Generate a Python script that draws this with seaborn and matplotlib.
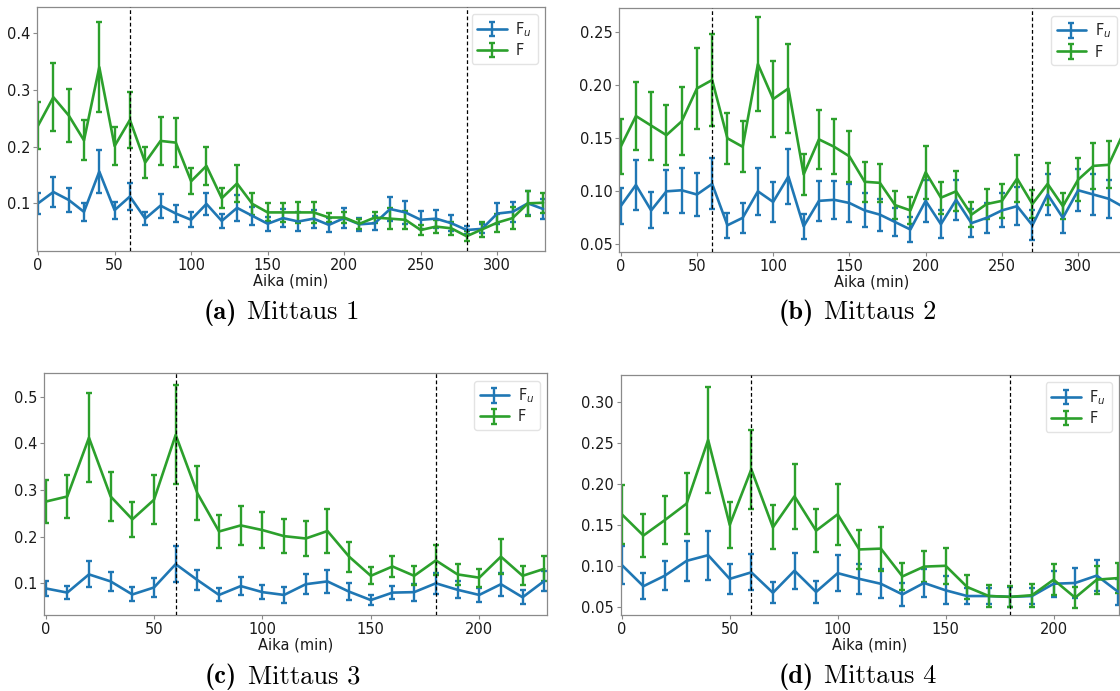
import numpy as np
import pandas as pd
import matplotlib
matplotlib.use("Agg")
import matplotlib.pyplot as plt
from matplotlib.ticker import MultipleLocator, FormatStrFormatter
import seaborn as sns

# Sampling times (min)
t_long = list(range(0, 331, 10))
t_short = list(range(0, 231, 10))

# Mittaus 1
m1_fu = [0.100, 0.120, 0.106, 0.085, 0.156, 0.088, 0.112, 0.073, 0.096, 0.082, 0.071, 0.099,
         0.069, 0.092, 0.078, 0.064, 0.074, 0.068, 0.073, 0.062, 0.074, 0.063, 0.065, 0.090,
         0.084, 0.071, 0.073, 0.065, 0.053, 0.055, 0.082, 0.085, 0.100, 0.090]
m1_fu_err = [0.019, 0.026, 0.021, 0.016, 0.038, 0.015, 0.024, 0.012, 0.021, 0.015, 0.013, 0.020,
             0.013, 0.023, 0.016, 0.012, 0.016, 0.016, 0.016, 0.012, 0.018, 0.012, 0.012, 0.022,
             0.020, 0.016, 0.016, 0.014, 0.007, 0.008, 0.018, 0.018, 0.021, 0.018]
m1_f = [0.237, 0.287, 0.255, 0.211, 0.340, 0.201, 0.247, 0.172, 0.210, 0.207, 0.139, 0.166,
        0.109, 0.135, 0.099, 0.084, 0.084, 0.084, 0.084, 0.075, 0.075, 0.064, 0.075, 0.073,
        0.071, 0.053, 0.059, 0.056, 0.042, 0.054, 0.066, 0.074, 0.100, 0.101]
m1_f_err = [0.042, 0.060, 0.047, 0.035, 0.079, 0.033, 0.050, 0.027, 0.043, 0.043, 0.023, 0.034,
            0.018, 0.033, 0.020, 0.016, 0.017, 0.019, 0.019, 0.008, 0.009, 0.009, 0.009, 0.018,
            0.016, 0.009, 0.012, 0.011, 0.009, 0.013, 0.016, 0.019, 0.022, 0.018]

# Mittaus 2
m2_fu = [0.086, 0.106, 0.082, 0.100, 0.101, 0.097, 0.107, 0.068, 0.075, 0.100, 0.090, 0.114,
         0.067, 0.091, 0.092, 0.089, 0.082, 0.078, 0.071, 0.064, 0.091, 0.069, 0.092, 0.070,
         0.075, 0.082, 0.086, 0.068, 0.097, 0.075, 0.101, 0.097, 0.093, 0.085]
m2_fu_err = [0.017, 0.024, 0.017, 0.020, 0.021, 0.020, 0.024, 0.012, 0.014, 0.022, 0.019, 0.026,
             0.012, 0.019, 0.018, 0.018, 0.016, 0.015, 0.013, 0.012, 0.020, 0.013, 0.019, 0.013,
             0.014, 0.016, 0.018, 0.014, 0.019, 0.014, 0.020, 0.019, 0.018, 0.018]
m2_f = [0.142, 0.171, 0.162, 0.153, 0.166, 0.197, 0.205, 0.150, 0.142, 0.220, 0.187, 0.197,
        0.116, 0.149, 0.142, 0.133, 0.109, 0.108, 0.087, 0.082, 0.118, 0.094, 0.100, 0.078,
        0.088, 0.091, 0.112, 0.088, 0.107, 0.086, 0.111, 0.124, 0.125, 0.156]
m2_f_err = [0.026, 0.032, 0.032, 0.028, 0.032, 0.038, 0.043, 0.024, 0.024, 0.044, 0.036, 0.042,
            0.019, 0.028, 0.026, 0.024, 0.019, 0.018, 0.013, 0.013, 0.025, 0.015, 0.019, 0.012,
            0.014, 0.016, 0.022, 0.013, 0.020, 0.012, 0.020, 0.022, 0.022, 0.025]

# Mittaus 3
m3_fu = [0.089, 0.080, 0.119, 0.104, 0.076, 0.091, 0.141, 0.107, 0.075, 0.094, 0.081, 0.075,
         0.098, 0.104, 0.082, 0.064, 0.080, 0.081, 0.100, 0.086, 0.075, 0.098, 0.070, 0.105]
m3_fu_err = [0.016, 0.014, 0.028, 0.021, 0.015, 0.020, 0.038, 0.022, 0.014, 0.020, 0.015, 0.017,
             0.022, 0.024, 0.018, 0.011, 0.014, 0.018, 0.023, 0.018, 0.015, 0.025, 0.015, 0.021]
m3_f = [0.275, 0.286, 0.412, 0.286, 0.237, 0.279, 0.418, 0.293, 0.211, 0.224, 0.214, 0.201,
        0.196, 0.212, 0.157, 0.116, 0.136, 0.116, 0.149, 0.119, 0.112, 0.157, 0.116, 0.131]
m3_f_err = [0.046, 0.047, 0.095, 0.052, 0.037, 0.053, 0.106, 0.058, 0.036, 0.042, 0.039, 0.037,
            0.038, 0.047, 0.032, 0.018, 0.022, 0.020, 0.032, 0.022, 0.019, 0.037, 0.020, 0.027]

# Mittaus 4
m4_fu = [0.101, 0.075, 0.088, 0.106, 0.113, 0.084, 0.092, 0.067, 0.094, 0.068, 0.091, 0.084,
         0.078, 0.065, 0.079, 0.070, 0.063, 0.063, 0.062, 0.063, 0.078, 0.079, 0.088, 0.068]
m4_fu_err = [0.023, 0.016, 0.018, 0.024, 0.030, 0.018, 0.022, 0.013, 0.022, 0.013, 0.022, 0.018,
             0.018, 0.014, 0.017, 0.017, 0.010, 0.010, 0.012, 0.010, 0.016, 0.018, 0.019, 0.016]
m4_f = [0.163, 0.137, 0.156, 0.176, 0.254, 0.150, 0.218, 0.147, 0.185, 0.143, 0.163, 0.120,
        0.121, 0.087, 0.099, 0.100, 0.074, 0.063, 0.062, 0.064, 0.083, 0.061, 0.083, 0.085]
m4_f_err = [0.036, 0.026, 0.029, 0.037, 0.065, 0.028, 0.048, 0.027, 0.040, 0.026, 0.037, 0.024,
            0.027, 0.017, 0.019, 0.022, 0.015, 0.013, 0.013, 0.014, 0.019, 0.013, 0.017, 0.018]

# Phase boundaries (min)
m1_marks = [60, 280]
m2_marks = [60, 270]
m3_marks = [60, 180]
m4_marks = [60, 180]

captions = ["(a)", "(b)", "(c)", "(d)"]
titles = ["Mittaus 1", "Mittaus 2", "Mittaus 3", "Mittaus 4"]
series_labels = ["F$_u$", "F"]

sns.set_theme(style="ticks")
plt.rcParams["font.family"] = ["DejaVu Sans"]
palette = sns.color_palette("tab10")
c_fu, c_f = palette[0], palette[2]
spine_grey = "#8a8a8a"

W, H = 1120, 691
fig = plt.figure(figsize=(W / 100, H / 100), dpi=100)


def px_axes(left, top, right, bottom):
    return fig.add_axes([left / W, 1 - bottom / H, (right - left) / W, (bottom - top) / H])


panels = [
    dict(box=(37, 7, 545, 251), t=t_long, fu=m1_fu, fue=m1_fu_err, f=m1_f, fe=m1_f_err,
         marks=m1_marks, xlim=(-0.7, 331.2), ylim=(0.016, 0.446), ystep=0.1, yfmt="%.1f",
         cap=(237, 247, 319)),
    dict(box=(619.3, 8.3, 1124.5, 252.3), t=t_long, fu=m2_fu, fue=m2_fu_err, f=m2_f, fe=m2_f_err,
         marks=m2_marks, xlim=(-0.9, 330.4), ylim=(0.0425, 0.2726), ystep=0.05, yfmt="%.2f",
         cap=(814, 824, 319)),
    dict(box=(44.3, 373.3, 547.3, 615), t=t_short, fu=m3_fu, fue=m3_fu_err, f=m3_f, fe=m3_f_err,
         marks=m3_marks, xlim=(-0.6, 231.4), ylim=(0.032, 0.55), ystep=0.1, yfmt="%.1f",
         cap=(237, 248, 683)),
    dict(box=(620.7, 375, 1119, 615), t=t_short, fu=m4_fu, fue=m4_fu_err, f=m4_f, fe=m4_f_err,
         marks=m4_marks, xlim=(-0.5, 230.3), ylim=(0.0398, 0.3334), ystep=0.05, yfmt="%.2f",
         cap=(814, 824, 683)),
]

for p, cap, title in zip(panels, captions, titles):
    ax = px_axes(*p["box"])
    df = pd.DataFrame({"t": p["t"], "Fu": p["fu"], "Fu_err": p["fue"],
                       "F": p["f"], "F_err": p["fe"]})
    for col, ecol, color, lab in [("Fu", "Fu_err", c_fu, series_labels[0]),
                                  ("F", "F_err", c_f, series_labels[1])]:
        ax.errorbar(df["t"], df[col], yerr=df[ecol], color=color, lw=1.9,
                    elinewidth=1.7, capsize=2.2, capthick=1.7, label=lab)
    for m in p["marks"]:
        ax.axvline(m, color="black", lw=0.9, ls=(0, (3, 2)), zorder=5)
    ax.set_xlim(*p["xlim"])
    ax.set_ylim(*p["ylim"])
    ax.xaxis.set_major_locator(MultipleLocator(50))
    ax.yaxis.set_major_locator(MultipleLocator(p["ystep"]))
    ax.yaxis.set_major_formatter(FormatStrFormatter(p["yfmt"]))
    ax.set_xlabel("Aika (min)", fontsize=10.5, labelpad=0.5, color="#1a1a1a")
    ax.tick_params(labelsize=10.5, length=3, width=0.8, color=spine_grey, pad=2,
                   labelcolor="#1a1a1a")
    for s in ax.spines.values():
        s.set_color(spine_grey)
        s.set_linewidth(0.9)
    ax.legend(loc="upper right", fontsize=10.5, framealpha=0.8, edgecolor="#dddddd",
              handlelength=2.0, borderpad=0.4, labelspacing=0.3, handletextpad=0.6)

    # Sub-figure caption: bold label followed by the measurement name
    lab_right, title_left, base = p["cap"]
    fig.text(lab_right / W, 1 - base / H, cap, family="cmb10", fontsize=19,
             ha="right", va="baseline", color="black")
    fig.text(title_left / W, 1 - base / H, title, family="cmr10", fontsize=19,
             ha="left", va="baseline", color="black")

fig.savefig("out.png", dpi=100)
